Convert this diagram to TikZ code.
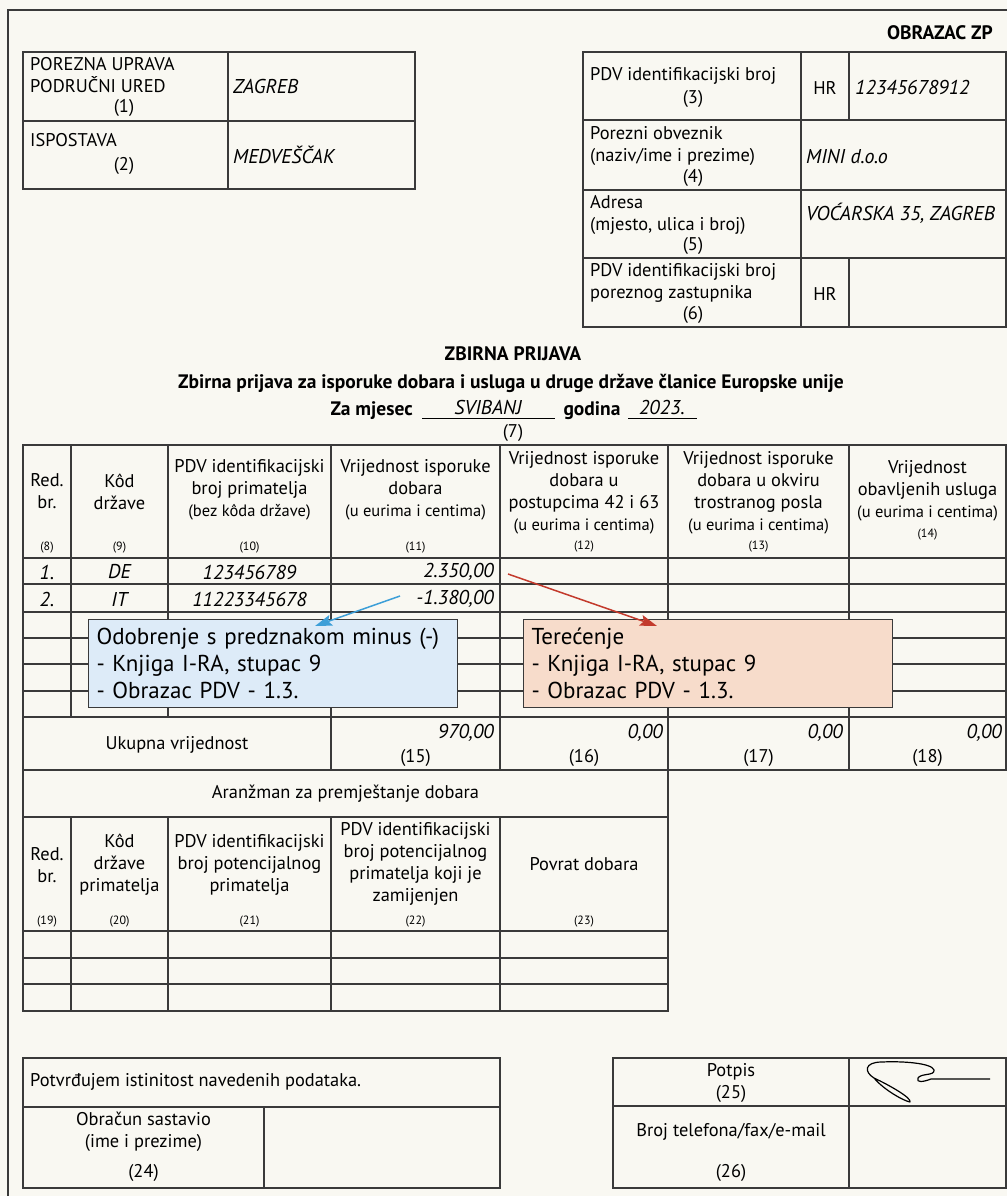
\documentclass[tikz,border=0pt]{standalone}
\usepackage{fontspec}
\setmainfont{PT Sans}
\usetikzlibrary{arrows.meta}
\definecolor{papir}{HTML}{F9F8F2}
\definecolor{linija}{HTML}{3A3A3A}
\definecolor{plava}{HTML}{DDEBF8}
\definecolor{plavastr}{HTML}{3D9FD8}
\definecolor{crvena}{HTML}{F7DCCB}
\definecolor{crvenastr}{HTML}{C33A2C}
\newcommand{\sitno}{\fontsize{16.5}{20}\selectfont}
\tikzset{
  crta/.style={draw=linija, line width=1.1pt},
  tekst/.style={font=\fontsize{18.4}{22}\selectfont, inner sep=0pt, align=center},
  lijevo/.style={tekst, align=left, anchor=west},
  oznaka/.style={font=\fontsize{12}{14}\selectfont, inner sep=0pt},
  iznos/.style={font=\fontsize{20}{22}\selectfont\itshape, inner sep=0pt},
  naslov/.style={font=\fontsize{19.5}{22}\selectfont\bfseries, inner sep=0pt},
  napomena/.style={draw=linija, line width=1.1pt, font=\fontsize{23}{27}\selectfont,
    align=left, anchor=north west, inner xsep=8pt, inner ysep=6pt,
    minimum height=88pt, text width=353pt},
  strelica/.style={-{Stealth[length=17pt,width=11pt,inset=3pt]}, line width=1.5pt}
}
\begin{document}
\begin{tikzpicture}[x=1pt,y=-1pt]
\useasboundingbox (0,0) rectangle (1007,1196);
\fill[papir] (0,0) rectangle (1007,1196);
\draw[crta] (8,1196) -- (8,10) -- (1007,10);

\node[naslov, anchor=east] (obrazac) at (993,33) {OBRAZAC ZP};

% porezna uprava
\draw[crta] (23,52) rectangle (415,189);
\draw[crta] (228,52) -- (228,189);
\draw[crta] (23,121) -- (415,121);
\node[lijevo] (ured) at (30,75) {POREZNA UPRAVA\\PODRUČNI URED};
\node[tekst] (o1) at (124,108) {(1)};
\node[iznos, anchor=west] (zagreb) at (233,87) {ZAGREB};
\node[lijevo] (isp) at (30,140) {ISPOSTAVA};
\node[tekst] (o2) at (124,166) {(2)};
\node[iznos, anchor=west] (medv) at (233,155) {MEDVEŠČAK};

% obveznik
\draw[crta] (583,52) rectangle (1006,327);
\foreach \y in {120,190,258} \draw[crta] (583,\y) -- (1006,\y);
\draw[crta] (801,52) -- (801,327);
\draw[crta] (849,52) -- (849,120);
\draw[crta] (849,258) -- (849,327);
\node[lijevo] (pdv) at (590,76) {PDV identifikacijski broj};
\node[tekst] (o3) at (693,99) {(3)};
\node[tekst] (hr1) at (825,88) {HR};
\node[iznos, anchor=west] (oib) at (855,88) {12345678912};
\node[lijevo] (obv) at (590,146) {Porezni obveznik\\(naziv/ime i prezime)};
\node[tekst] (o4) at (693,178) {(4)};
\node[iznos, anchor=west] (mini) at (806,157) {MINI d.o.o};
\node[lijevo] (adr) at (590,214.5) {Adresa\\(mjesto, ulica i broj)};
\node[tekst] (o5) at (693,246) {(5)};
\node[iznos, anchor=west] (vocarska) at (806,213) {VOĆARSKA 35, ZAGREB};
\node[lijevo] (zast) at (590,283) {PDV identifikacijski broj\\poreznog zastupnika};
\node[tekst] (o6) at (693,315) {(6)};
\node[tekst] (hr2) at (825,294) {HR};

% naslov
\node[naslov] (zbirna) at (513,354) {ZBIRNA PRIJAVA};
\node[naslov] (podnaslov) at (511,383) {Zbirna prijava za isporuke dobara i usluga u druge države članice Europske unije};
\node[naslov, anchor=east] (mjesec) at (413,411) {Za mjesec};
\draw[line width=0.8pt] (422,418) -- (555,418);
\node[iznos] (svibanj) at (488,407) {SVIBANJ};
\node[naslov] (godina) at (592,411) {godina};
\draw[line width=0.8pt] (628,418) -- (697,418);
\node[iznos] (god) at (662,407) {2023.};
\node[tekst] (o7) at (513,433) {(7)};

% isporuke
\draw[crta] (23,445) rectangle (1006,770);
\foreach \y in {558,584,612,638,664,691,717} \draw[crta] (23,\y) -- (1006,\y);
\foreach \x in {71,168} \draw[crta] (\x,445) -- (\x,717);
\foreach \x in {331,500,668,849} \draw[crta] (\x,445) -- (\x,770);
\node[tekst] (h8) at (47,491) {Red.\\br.};
\node[tekst] (h9) at (119.5,492) {Kôd\\države};
\node[tekst] (h10) at (249.5,490) {PDV identifikacijski\\broj primatelja\\{\sitno (bez kôda države)}};
\node[tekst] (h11) at (415.5,490) {Vrijednost isporuke\\dobara\\{\sitno (u eurima i centima)}};
\node[tekst] (h12) at (584,493) {Vrijednost isporuke\\dobara u\\postupcima 42 i 63\\{\sitno (u eurima i centima)}};
\node[tekst] (h13) at (758.5,493) {Vrijednost isporuke\\dobara u okviru\\trostranog posla\\{\sitno (u eurima i centima)}};
\node[tekst] (h14) at (927.5,491) {Vrijednost\\obavljenih usluga\\{\sitno (u eurima i centima)}};
\foreach \x/\y/\n in {47/548/8, 119.5/548/9, 249.5/548/10, 415.5/548/11, 584/547/12, 758.5/547/13, 927.5/535/14}
  \node[oznaka] (o\n) at (\x,\y) {(\n)};

\node[iznos] (rb1) at (47,572) {1.};
\node[iznos] (dr1) at (119.5,572) {DE};
\node[iznos] (id1) at (249.5,572) {123456789};
\node[iznos, anchor=east] (v1) at (494,572) {2.350,00};
\node[iznos] (rb2) at (47,599) {2.};
\node[iznos] (dr2) at (119.5,599) {IT};
\node[iznos] (id2) at (249.5,599) {11223345678};
\node[iznos, anchor=east] (v2) at (494,599) {-1.380,00};

\node[tekst] (ukupno) at (177,745) {Ukupna vrijednost};
\foreach \x/\c/\v/\n in {494/415.5/{970,00}/15, 663/584/{0,00}/16, 843/758.5/{0,00}/17, 1002/927.5/{0,00}/18} {
  \node[iznos, anchor=east] (u\n) at (\x,733) {\v};
  \node[tekst] (o\n) at (\c,758) {(\n)};
}

% premjestanje
\draw[crta] (23,770) rectangle (668,1011);
\draw[crta] (23,817) -- (668,817);
\foreach \y in {931,958,984} \draw[crta] (23,\y) -- (668,\y);
\foreach \x in {71,168,331,500} \draw[crta] (\x,817) -- (\x,1011);
\node[tekst] (aranzman) at (345.5,794) {Aranžman za premještanje dobara};
\node[tekst] (h19) at (47,865) {Red.\\br.};
\node[tekst] (h20) at (119.5,865) {Kôd\\države\\primatelja};
\node[tekst] (h21) at (249.5,865) {PDV identifikacijski\\broj potencijalnog\\primatelja};
\node[tekst] (h22) at (415.5,864) {PDV identifikacijski\\broj potencijalnog\\primatelja koji je\\zamijenjen};
\node[tekst] (h23) at (584,864) {Povrat dobara};
\foreach \x/\n in {47/19, 119.5/20, 249.5/21, 415.5/22, 584/23}
  \node[oznaka] (o\n) at (\x,922) {(\n)};

% potpis
\draw[crta] (23,1058) rectangle (500,1188);
\draw[crta] (23,1107) -- (500,1107);
\draw[crta] (264,1107) -- (264,1188);
\node[lijevo] (potvrda) at (30,1082) {Potvrđujem istinitost navedenih podataka.};
\node[tekst] (sastavio) at (143.5,1131.5) {Obračun sastavio\\(ime i prezime)};
\node[tekst] (o24) at (143.5,1173) {(24)};
\draw[crta] (613,1058) rectangle (1006,1188);
\draw[crta] (613,1106) -- (1006,1106);
\draw[crta] (849,1058) -- (849,1188);
\node[tekst] (potpis) at (731,1083) {Potpis\\(25)};
\node[tekst] (telefon) at (731,1132) {Broj telefona/fax/e-mail};
\node[tekst] (o26) at (731,1173) {(26)};
\draw[line width=1.2pt, line join=round] (874,1078) .. controls (884,1090) and (904,1101) .. (910,1102)
  .. controls (912,1098) and (889,1085) .. (874,1078)
  .. controls (864,1072) and (864,1062) .. (882,1062)
  .. controls (902,1061) and (932,1063) .. (934,1070)
  .. controls (935,1076) and (921,1073) .. (918,1078)
  .. controls (916,1083) and (923,1082) .. (931,1079) -- (990,1079);

% napomene
\node[napomena, fill=plava] (odobrenje) at (88,619) {Odobrenje s predznakom minus (-)\\- Knjiga I-RA, stupac 9\\- Obrazac PDV - 1.3.};
\node[napomena, fill=crvena] (terecenje) at (523,619) {Terećenje\\- Knjiga I-RA, stupac 9\\- Obrazac PDV - 1.3.};
\coordinate (plavi) at (400,596);
\coordinate (plavivrh) at (315,626);
\coordinate (crveni) at (508,574);
\coordinate (crvenivrh) at (657,626);
\draw[strelica, plavastr] (plavi) -- (plavivrh);
\draw[strelica, crvenastr] (crveni) -- (crvenivrh);
\end{tikzpicture}
\end{document}
